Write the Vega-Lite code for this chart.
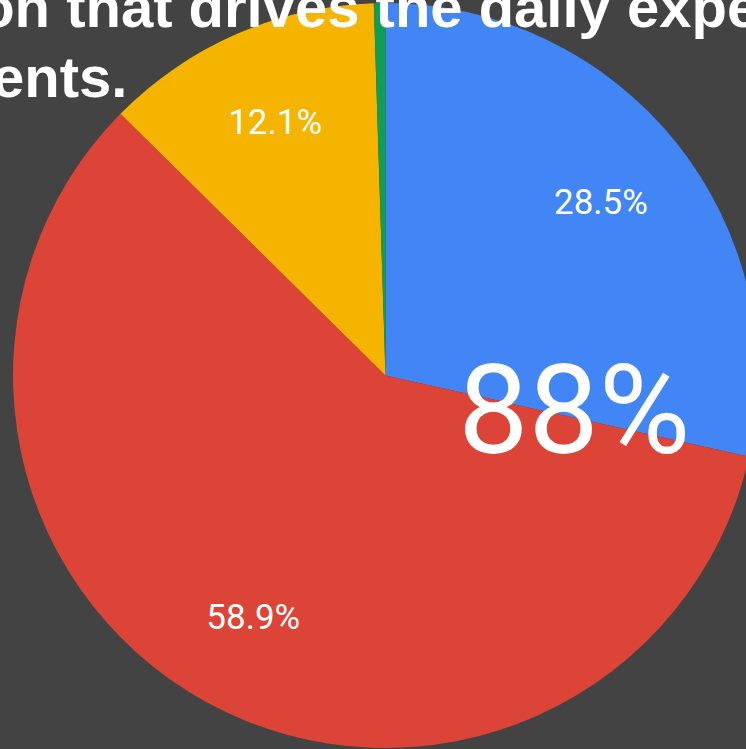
{
  "$schema": "https://vega.github.io/schema/vega-lite/v6.json",
  "width": 771,
  "height": 751,
  "autosize": {"type": "none"},
  "padding": 0,
  "background": "#434343",
  "view": {"stroke": null},
  "title": {
    "text": ["a question that drives the daily experiences of", "our students."],
    "anchor": "start",
    "frame": "group",
    "align": "left",
    "font": "Liberation Sans",
    "fontWeight": "bold",
    "fontSize": 58,
    "lineHeight": 70,
    "color": "white",
    "baseline": "alphabetic",
    "offset": 0,
    "dx": -240,
    "dy": 155
  },
  "data": {
    "values": [
      {"cat": "A", "share": 0.285},
      {"cat": "B", "share": 0.589},
      {"cat": "C", "share": 0.121},
      {"cat": "D", "share": 0.005}
    ]
  },
  "layer": [
    {
      "mark": {"type": "arc", "outerRadius": 372.5},
      "encoding": {
        "theta": {"field": "share", "type": "quantitative", "stack": true},
        "order": {"field": "cat", "type": "ordinal"},
        "color": {
          "field": "cat",
          "type": "nominal",
          "scale": {"domain": ["A", "B", "C", "D"], "range": ["#4285F4", "#DB4437", "#F4B400", "#0F9D58"]},
          "legend": null
        }
      }
    },
    {
      "transform": [{"filter": "datum.cat != 'D'"}],
      "mark": {"type": "text", "radius": 276, "fontSize": 35, "font": "Roboto", "fill": "white"},
      "encoding": {
        "theta": {"field": "share", "type": "quantitative", "stack": true},
        "order": {"field": "cat", "type": "ordinal"},
        "text": {"field": "share", "type": "quantitative", "format": ".1%"}
      }
    },
    {
      "data": {"values": [{"label": "88%"}]},
      "mark": {"type": "text", "radius": 193, "fontSize": 125, "font": "Roboto", "fill": "white"},
      "encoding": {
        "theta": {"datum": 0.283, "type": "quantitative"},
        "text": {"field": "label", "type": "nominal"}
      }
    }
  ]
}
